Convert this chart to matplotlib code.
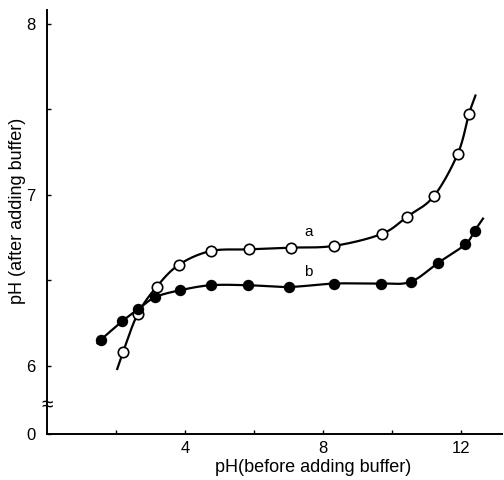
"""
Buffer capacity plot: pH after adding buffer vs pH before adding buffer.
"""

import numpy as np
import matplotlib
matplotlib.use("Agg")
import matplotlib.pyplot as plt

# curve a (open circles)
ph_before_a = [2.21, 2.63, 3.18, 3.83, 4.75, 5.86, 7.07, 8.32, 9.71, 10.44, 11.22, 11.92, 12.24]
ph_after_a = [6.08, 6.30, 6.46, 6.59, 6.67, 6.68, 6.69, 6.70, 6.77, 6.87, 6.99, 7.24, 7.47]
# where the drawn line starts / ends beyond the points
line_ends_a_x = [2.04, 12.43]
line_ends_a_y = [5.98, 7.58]

# curve b (filled circles)
ph_before_b = [1.56, 2.19, 2.65, 3.14, 3.85, 4.75, 5.84, 7.03, 8.33, 9.68, 10.55, 11.34, 12.14, 12.41]
ph_after_b = [6.15, 6.26, 6.33, 6.40, 6.44, 6.47, 6.47, 6.46, 6.48, 6.48, 6.49, 6.60, 6.71, 6.79]
line_ends_b_x = [1.47, 12.65]
line_ends_b_y = [6.13, 6.86]

y_ticks = [6, 7, 8]
y_minor = [6.5, 7.5]
x_ticks = [4, 8, 12]
x_minor = [2, 6, 10]
Y_ZERO = 5.6   # fake position of the "0" below the axis break


def smooth(xs, ys, n=20):
    """Catmull-Rom curve through the given points (for drawing only)."""
    p = np.column_stack([xs, ys])
    p = np.vstack([2 * p[0] - p[1], p, 2 * p[-1] - p[-2]])
    out = []
    t = np.linspace(0, 1, n, endpoint=False)[:, None]
    for i in range(1, len(p) - 2):
        p0, p1, p2, p3 = p[i - 1], p[i], p[i + 1], p[i + 2]
        seg = 0.5 * ((2 * p1) + (-p0 + p2) * t + (2 * p0 - 5 * p1 + 4 * p2 - p3) * t ** 2
                     + (-p0 + 3 * p1 - 3 * p2 + p3) * t ** 3)
        out.append(seg)
    out.append(p[-2][None, :])
    out = np.vstack(out)
    return out[:, 0], out[:, 1]


plt.rcParams["font.family"] = ["Liberation Sans", "DejaVu Sans"]

fig = plt.figure(figsize=(5.04, 4.8), dpi=100)
ax = fig.add_axes([0.093, 0.096, 0.903, 0.883])

for xs, ys, ex, ey, face in [
    (ph_before_a, ph_after_a, line_ends_a_x, line_ends_a_y, "white"),
    (ph_before_b, ph_after_b, line_ends_b_x, line_ends_b_y, "black"),
]:
    cx, cy = smooth([ex[0]] + xs + [ex[1]], [ey[0]] + ys + [ey[1]])
    ax.plot(cx, cy, color="black", lw=1.6, zorder=2)
    ax.plot(xs, ys, "o", ms=7.5 if face == "white" else 7, mfc=face,
            mec="black", mew=1.2, zorder=3)

ax.text(7.59, 6.78, "a", fontsize=11, ha="center", va="center")
ax.text(7.57, 6.55, "b", fontsize=11, ha="center", va="center")

ax.set_xlim(0, 13.2)
ax.set_ylim(Y_ZERO, 8.08)

ax.spines["top"].set_visible(False)
ax.spines["right"].set_visible(False)
for s in ("left", "bottom"):
    ax.spines[s].set_linewidth(1.4)

ax.set_xticks(x_ticks)
ax.set_xticks(x_minor, minor=True)
ax.set_yticks([Y_ZERO] + y_ticks)
ax.set_yticklabels(["0"] + [str(v) for v in y_ticks])
ax.set_yticks(y_minor, minor=True)
ax.tick_params(axis="both", which="both", direction="in", length=3, width=1,
               labelsize=12)
ax.tick_params(axis="y", which="major", pad=8)
ax.tick_params(axis="x", which="major", pad=5)

# axis break mark
ax.text(0, 5.77, "≈", fontsize=15, ha="center", va="center", clip_on=False)

ax.set_xlabel("pH(before adding buffer)", fontsize=13, labelpad=2, x=0.586)
ax.set_ylabel("pH (after adding buffer)", fontsize=13)
ax.yaxis.set_label_coords(-0.046, 0.526)

fig.savefig("out.png", dpi=100)
